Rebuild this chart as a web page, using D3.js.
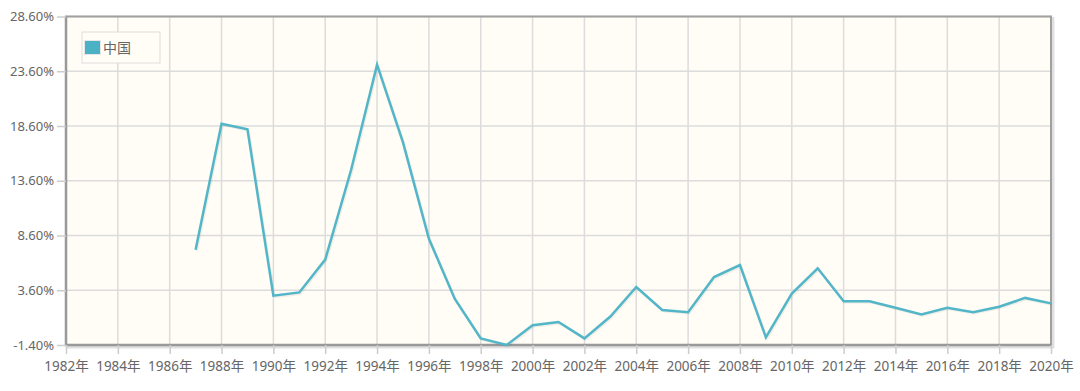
<!DOCTYPE html>
<html>
<head>
<meta charset="utf-8">
<script src="https://cdn.jsdelivr.net/npm/d3@7/dist/d3.min.js"></script>
<style>
  body { margin: 0; background: #fff; }
  svg { display: block; font-family: "Noto Sans", "Noto Sans CJK SC", sans-serif; }
</style>
</head>
<body>
<div id="chart"></div>
<script>
// China CPI inflation by year
const years = [1987, 1988, 1989, 1990, 1991, 1992, 1993, 1994, 1995, 1996, 1997, 1998, 1999,
  2000, 2001, 2002, 2003, 2004, 2005, 2006, 2007, 2008, 2009, 2010, 2011, 2012, 2013,
  2014, 2015, 2016, 2017, 2018, 2019, 2020];
const cpi = [7.3, 18.8, 18.3, 3.1, 3.4, 6.4, 14.6, 24.2, 17.1, 8.3, 2.8, -0.8, -1.4,
  0.4, 0.7, -0.8, 1.2, 3.9, 1.8, 1.6, 4.8, 5.9, -0.7, 3.3, 5.6, 2.6, 2.6,
  2.0, 1.4, 2.0, 1.6, 2.1, 2.9, 2.4];
const xTicks = d3.range(1982, 2021, 2);
const yTicks = [-1.4, 3.6, 8.6, 13.6, 18.6, 23.6, 28.6];
const seriesName = "中国";

const W = 1080, H = 391;
const plotL = 66, plotR = 1051, plotT = 16.5, plotB = 345;
const lineColor = "#52b6c8";

const svg = d3.select("#chart").append("svg")
  .attr("width", W).attr("height", H);

const x = d3.scaleLinear().domain([1982, 2020]).range([plotL, plotR]);
const y = d3.scaleLinear().domain([-1.4, 28.6]).range([plotB, plotT]);

// shadow of the plot frame
svg.append("rect")
  .attr("x", plotL + 2).attr("y", plotT + 2)
  .attr("width", plotR - plotL).attr("height", plotB - plotT)
  .attr("fill", "none").attr("stroke", "rgba(0,0,0,0.12)").attr("stroke-width", 3);

// plot background
svg.append("rect")
  .attr("x", plotL).attr("y", plotT)
  .attr("width", plotR - plotL).attr("height", plotB - plotT)
  .attr("fill", "#fffdf6");

// grid
const grid = svg.append("g");
grid.selectAll("line.v").data(xTicks).join("line").attr("class", "v")
  .attr("x1", d => x(d)).attr("x2", d => x(d))
  .attr("y1", plotT).attr("y2", plotB)
  .attr("stroke", "#dcdcdc").attr("stroke-width", 1.5);
grid.selectAll("line.h").data(yTicks).join("line").attr("class", "h")
  .attr("x1", plotL).attr("x2", plotR)
  .attr("y1", d => y(d)).attr("y2", d => y(d))
  .attr("stroke", "#dcdcdc").attr("stroke-width", 1.5);

// frame
svg.append("rect")
  .attr("x", plotL).attr("y", plotT)
  .attr("width", plotR - plotL).attr("height", plotB - plotT)
  .attr("fill", "none").attr("stroke", "#a0a0a0").attr("stroke-width", 2);
// heavier left and bottom axis lines
svg.append("line").attr("x1", plotL).attr("x2", plotL).attr("y1", plotT).attr("y2", plotB + 1)
  .attr("stroke", "#999").attr("stroke-width", 2.5);
svg.append("line").attr("x1", plotL - 1).attr("x2", plotR + 1).attr("y1", plotB).attr("y2", plotB)
  .attr("stroke", "#999").attr("stroke-width", 2.5);

// axes
const yAxis = d3.axisLeft(y).tickValues(yTicks).tickSize(9).tickPadding(3)
  .tickFormat(d => d.toFixed(2) + "%");
const gy = svg.append("g").attr("transform", `translate(${plotL},0)`).call(yAxis);
const xAxis = d3.axisBottom(x).tickValues(xTicks).tickSize(9).tickPadding(7)
  .tickFormat(d => d + "年");
const gx = svg.append("g").attr("transform", `translate(0,${plotB})`).call(xAxis);

[gy, gx].forEach(g => {
  g.select(".domain").remove();
  g.selectAll(".tick line").attr("stroke", "#ccc").attr("stroke-width", 1.5);
  g.selectAll(".tick text").attr("fill", "#666")
    .style("font-family", "'Noto Sans', 'Noto Sans CJK SC', sans-serif");
});
gy.selectAll(".tick text").style("font-size", "13px");
gx.selectAll(".tick text").style("font-size", "13.5px");

// series line
const line = d3.line().x((d, i) => x(years[i])).y(d => y(d));
svg.append("path").datum(cpi)
  .attr("d", line).attr("transform", "translate(1.2,1.2)")
  .attr("fill", "none").attr("stroke", "rgba(0,0,0,0.06)").attr("stroke-width", 2.5)
  .attr("stroke-linejoin", "round");
svg.append("path").datum(cpi)
  .attr("d", line)
  .attr("fill", "none").attr("stroke", lineColor).attr("stroke-width", 2.5)
  .attr("stroke-linejoin", "miter");

// legend
const lg = svg.append("g").attr("transform", "translate(82,32)");
lg.append("rect").attr("width", 78).attr("height", 31)
  .attr("fill", "#fffdf6").attr("stroke", "#ddd").attr("stroke-width", 1);
lg.append("rect").attr("x", 2.5).attr("y", 8.5).attr("width", 16).attr("height", 14)
  .attr("fill", "#4bb2c5").attr("stroke", "#e6e6e6").attr("stroke-width", 1);
lg.append("text").attr("x", 21).attr("y", 16).attr("dy", "0.35em")
  .attr("fill", "#666").style("font-size", "14px")
  .style("font-family", "'Noto Sans CJK SC', sans-serif")
  .text(seriesName);
</script>
</body>
</html>
